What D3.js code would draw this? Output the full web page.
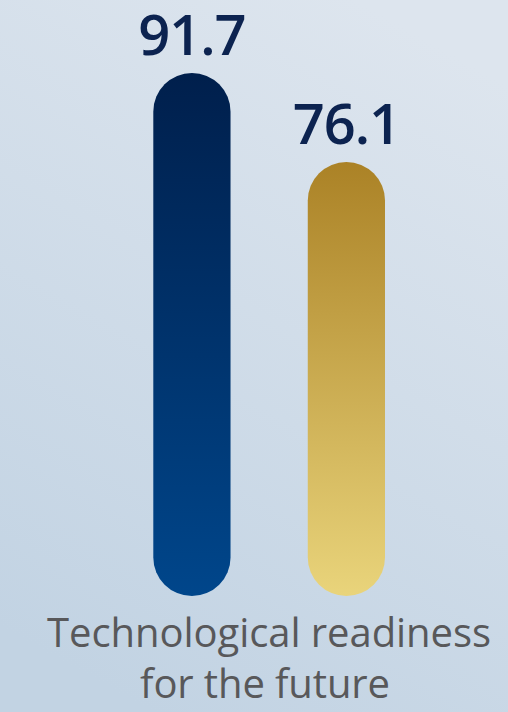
<!DOCTYPE html>
<html>
<head>
<meta charset="utf-8">
<script src="https://cdn.jsdelivr.net/npm/d3@7"></script>
<style>
  html, body { margin: 0; padding: 0; }
  body { width: 508px; height: 712px; overflow: hidden; }
</style>
</head>
<body>
<div id="chart"></div>
<script>
const categories = ["Series A", "Series B"];
const values = [91.7, 76.1];
const labelLines = ["Technological readiness", "for the future"];

const width = 508, height = 712;

const svg = d3.select("#chart").append("svg")
  .attr("width", width)
  .attr("height", height);

const defs = svg.append("defs");

function vGrad(id, top, bottom) {
  const g = defs.append("linearGradient")
    .attr("id", id)
    .attr("x1", 0).attr("y1", 0)
    .attr("x2", 0).attr("y2", 1);
  g.append("stop").attr("offset", "0%").attr("stop-color", top);
  g.append("stop").attr("offset", "100%").attr("stop-color", bottom);
}

// background
const bg = defs.append("linearGradient")
  .attr("id", "bg")
  .attr("x1", 0.7).attr("y1", 0)
  .attr("x2", 0.3).attr("y2", 1);
bg.append("stop").attr("offset", "0%").attr("stop-color", "#dde5ee");
bg.append("stop").attr("offset", "100%").attr("stop-color", "#c2d3e3");

vGrad("barBlue", "#001f4c", "#00468b");
vGrad("barGold", "#ab8226", "#e9d47b");

svg.append("rect")
  .attr("width", width)
  .attr("height", height)
  .attr("fill", "url(#bg)");

const x = d3.scaleBand()
  .domain(categories)
  .range([153.3, 385])
  .paddingInner(0.5);

const y = d3.scaleLinear()
  .domain([0, 100])
  .range([596, 25.7]);

const fills = ["url(#barBlue)", "url(#barGold)"];
const data = categories.map((c, i) => ({ cat: c, value: values[i], fill: fills[i] }));

svg.selectAll("rect.bar")
  .data(data)
  .enter()
  .append("rect")
    .attr("class", "bar")
    .attr("x", d => x(d.cat))
    .attr("y", d => y(d.value))
    .attr("width", x.bandwidth())
    .attr("height", d => y(0) - y(d.value))
    .attr("rx", x.bandwidth() / 2)
    .attr("ry", x.bandwidth() / 2)
    .attr("fill", d => d.fill);

svg.selectAll("text.value")
  .data(data)
  .enter()
  .append("text")
    .attr("class", "value")
    .attr("x", d => x(d.cat) + x.bandwidth() / 2)
    .attr("y", d => y(d.value) - 18)
    .attr("text-anchor", "middle")
    .style("font-family", "'Open Sans', sans-serif")
    .style("font-weight", 600)
    .style("font-size", "56px")
    .style("letter-spacing", "-1px")
    .attr("fill", "#0c2350")
    .text(d => d.value.toFixed(1));

// category label, spaced to the width it has in the reference
const lineWidths = [444, 250];
const label = svg.append("text")
  .attr("text-anchor", "middle")
  .style("font-family", "'Open Sans', sans-serif")
  .style("font-weight", 500)
  .style("font-size", "40px")
  .attr("fill", "#58585a");

label.selectAll("tspan")
  .data(labelLines)
  .enter()
  .append("tspan")
    .attr("x", (d, i) => i === 0 ? 269 : 265)
    .attr("y", (d, i) => 647 + i * 51)
    .text(d => d)
    .each(function(d, i) {
      const natural = this.getComputedTextLength();
      const gap = (lineWidths[i] - natural) / (d.length - 1);
      d3.select(this).style("letter-spacing", gap + "px");
    });
</script>
</body>
</html>
